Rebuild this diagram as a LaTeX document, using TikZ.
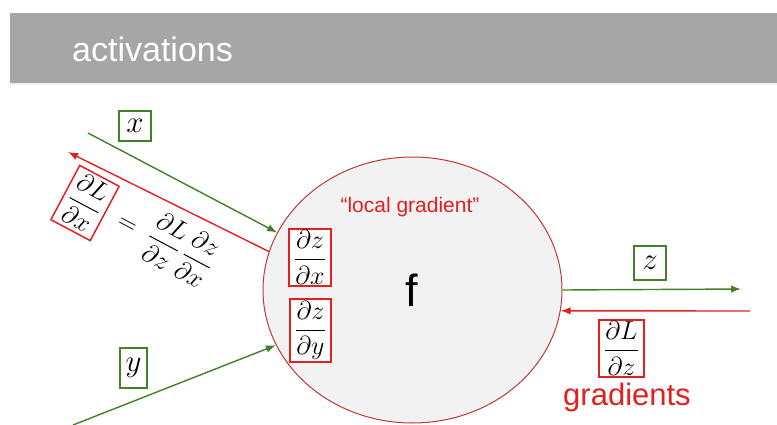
\RequirePackage{fix-cm}
\documentclass[tikz,border=0pt]{standalone}
\usepackage{amsmath}
\usepackage{fontspec}
\setmainfont{Liberation Sans}
\usetikzlibrary{arrows.meta,shapes.geometric}
\definecolor{gradred}{RGB}{226,32,32}
\definecolor{actgreen}{RGB}{66,128,42}
\definecolor{rimred}{RGB}{192,56,56}
\definecolor{bannergray}{RGB}{166,166,166}
\definecolor{gatefill}{RGB}{242,242,242}

\begin{document}
\begin{tikzpicture}[x=1pt, y=-1pt,
  fwd/.style = {-{Latex[length=10pt,width=7.5pt]}, line width=1.4pt, actgreen},
  bwd/.style = {-{Latex[length=10pt,width=7.5pt]}, line width=1.4pt, gradred},
  actbox/.style = {draw=actgreen, line width=1.5pt, fill=white,
                   font=\fontsize{31}{36}\selectfont,
                   inner sep=1pt, minimum width=32pt, minimum height=30pt},
  gradbox/.style = {draw=gradred, line width=1.5pt, fill=white,
                    font=\fontsize{26}{30}\selectfont,
                    inner xsep=5pt, inner ysep=2pt},
]
\useasboundingbox (0,0) rectangle (777,425);

% Banner
\fill[bannergray] (10,13) rectangle (777,83);
\fill[black!6] (10,83) rectangle (777,85);
\node[anchor=base west, text=white, inner sep=0pt,
      font=\fontsize{34}{40}\selectfont] (title) at (72,62) {activations};

% Gate
\node[ellipse, draw=rimred, fill=gatefill, line width=1pt,
      minimum width=299pt, minimum height=266pt] (gate) at (412.5,290) {};
\node[font=\fontsize{45}{50}\selectfont] (fname) at (412,290) {f};
\node[anchor=base, text=gradred, font=\fontsize{21}{24}\selectfont] (local) at (410,213) {``local gradient''};
\node[gradbox] (dzdx) at (310,257.5) {$\dfrac{\partial z}{\partial x}$};
\node[gradbox] (dzdy) at (310.5,330.5) {$\dfrac{\partial z}{\partial y}$};

% Inputs
\coordinate (xin) at (88,133);
\coordinate (yin) at (73,425);
\coordinate (xback) at (68,152);
\node[actbox] (xlab) at (135,126) {$x$};
\node[actbox, minimum width=27pt, minimum height=40pt] (ylab) at (133.5,368) {$y$};

% Output
\coordinate (zout) at (741,289);
\coordinate (dLin) at (750,311);
\node[actbox, minimum height=34pt] (zlab) at (650,263) {$z$};
\node[gradbox] (dLdz) at (621.5,348.5) {$\dfrac{\partial L}{\partial z}$};
\node[anchor=base, text=gradred, font=\fontsize{31}{36}\selectfont] (grads) at (627,405) {gradients};

% Chain rule along the back path
\node[gradbox, inner ysep=4pt, rotate=-28] (dLdx) at (85,203) {$\dfrac{\partial L}{\partial x}$};
\node[rotate=-28, font=\fontsize{26}{30}\selectfont] (chain) at (166,242)
  {$=\;\dfrac{\partial L}{\partial z}\,\dfrac{\partial z}{\partial x}$};

% Arrows
\draw[fwd] (xin) -- (gate.157);
\draw[fwd] (yin) -- (gate.202);
\draw[fwd] (gate.east) -- (zout);
\draw[bwd] (dLin) -- (gate.-8);
\draw[bwd] (gate.165) -- (xback);
\end{tikzpicture}
\end{document}
